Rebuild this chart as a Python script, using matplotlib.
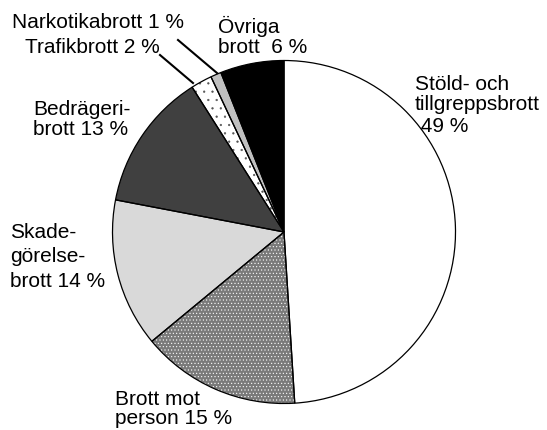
import matplotlib
matplotlib.use('Agg')
import matplotlib.pyplot as plt

plt.rcParams['font.family'] = ['Liberation Sans', 'DejaVu Sans']
plt.rcParams['hatch.linewidth'] = 0.4

# andelar av brott, medurs från kl 12
categories = ['Stöld- och\ntillgreppsbrott\n 49 %', 'Brott mot\nperson 15 %',
              'Skade-\ngörelse-\nbrott 14 %', 'Bedrägeri-\nbrott 13 %',
              'Trafikbrott 2 %', 'Narkotikabrott 1 %', 'Övriga\nbrott  6 %']
values = [49, 15, 14, 13, 2, 1, 6]
colors = ['white', '#7a7a7a', '#d9d9d9', '#404040', 'white', '#c0c0c0', 'black']
hatches = [None, '.....', None, None, '..', None, None]
hatch_colors = [None, 'white', None, None, '#555555', None, None]

W, H = 547, 430
cx, cy, r = 284, 232, 171.5

fig = plt.figure(figsize=(W / 100, H / 100), dpi=100)
ax = fig.add_axes([0, 0, 1, 1])

# fyllning + mönster
wedges, _ = ax.pie(values, colors=colors, startangle=90, counterclock=False,
                   wedgeprops=dict(linewidth=0))
for w, h, hc in zip(wedges, hatches, hatch_colors):
    if h:
        w.set_hatch(h)
        w.set_edgecolor(hc)

# konturer
ax.pie(values, colors=['none'] * len(values), startangle=90, counterclock=False,
       wedgeprops=dict(linewidth=0.9, edgecolor='black'))

ax.set_xlim(-cx / r, (W - cx) / r)
ax.set_ylim(-(H - cy) / r, cy / r)
ax.set_aspect('auto')
ax.axis('off')


def px(x, y):
    return (x - cx) / r, (cy - y) / r


fs = 15.0
# (x, baslinjer per rad)
label_pos = [(415, [90, 110, 132]), (115, [405, 424]), (10, [238, 262, 287]),
             (33, [115, 135]), (25, [53]), (12, [28]), (218, [33, 53])]
for lab, (x, ys) in zip(categories, label_pos):
    for line, y in zip(lab.split('\n'), ys):
        ax.text(*px(x, y), line, fontsize=fs, va='baseline', ha='left')

# ledarlinjer
for (x0, y0), (x1, y1) in [((160, 55), (193, 83)), ((178, 40), (217, 73))]:
    a, b = px(x0, y0)
    c, d = px(x1, y1)
    ax.plot([a, c], [b, d], color='black', linewidth=1.5)

fig.savefig('out.png', dpi=100)
